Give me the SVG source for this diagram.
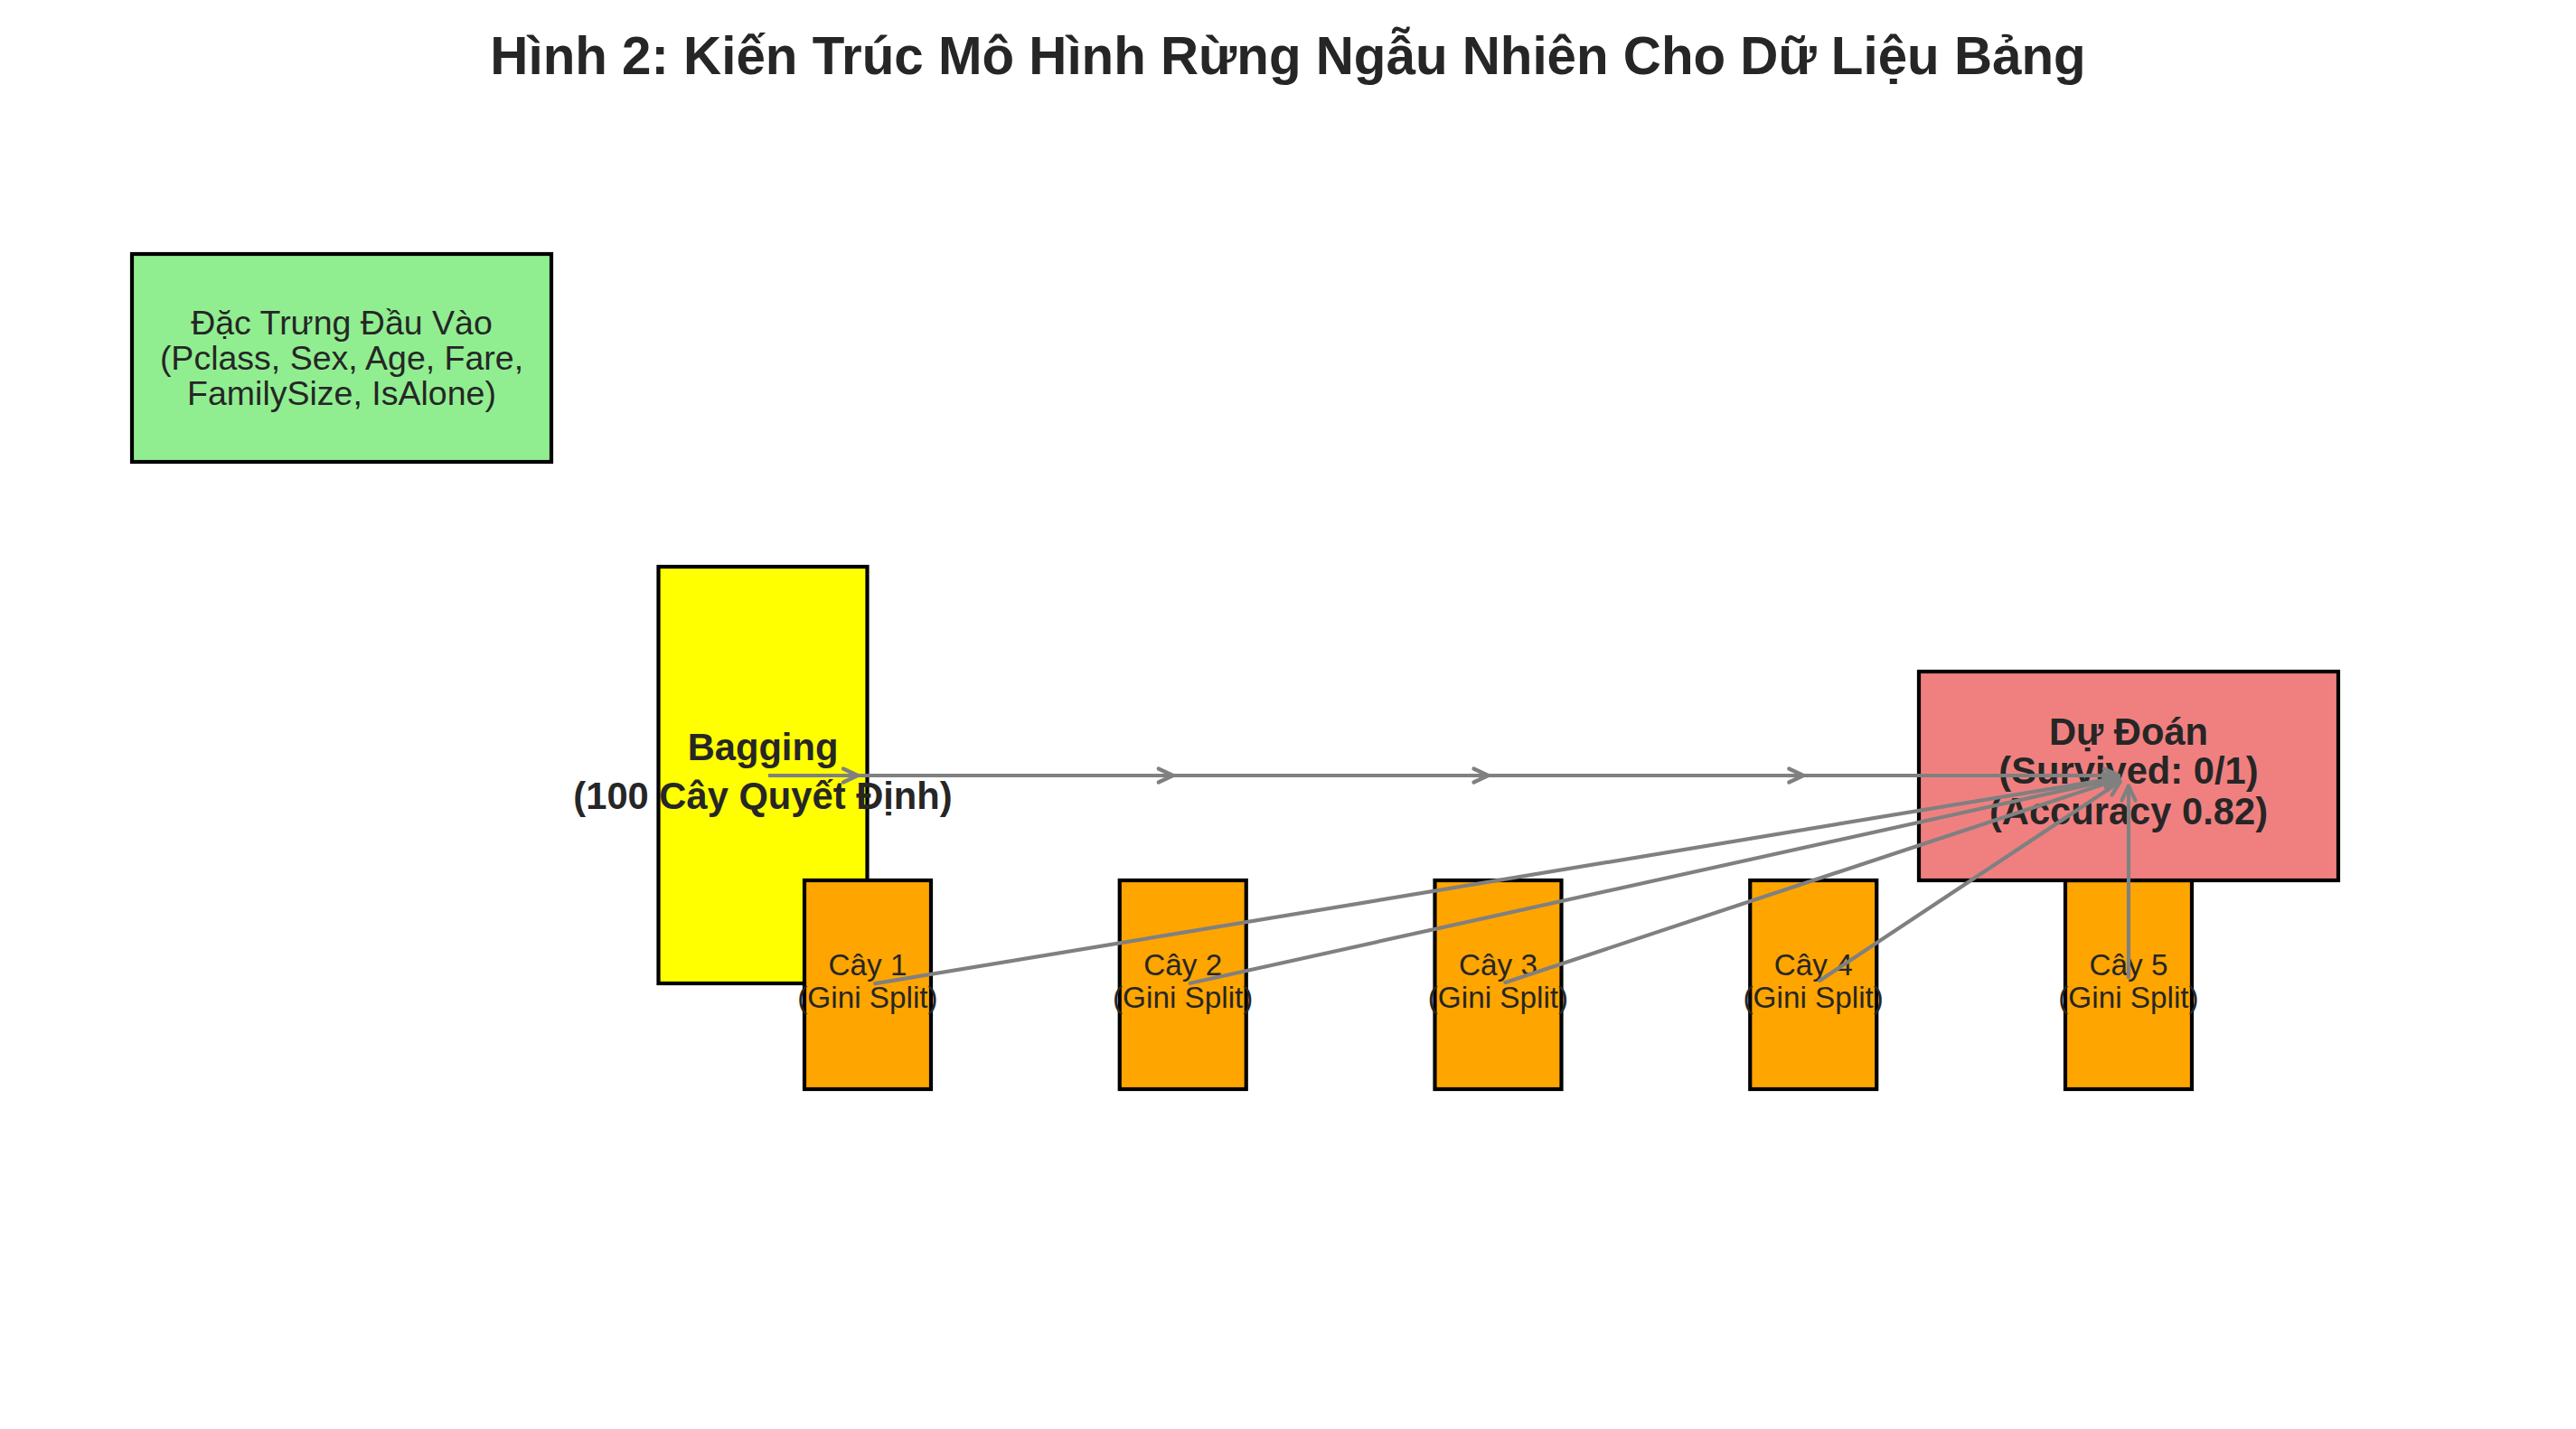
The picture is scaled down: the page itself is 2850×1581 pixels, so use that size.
<svg xmlns="http://www.w3.org/2000/svg" width="2850" height="1581" viewBox="0 0 2850 1581">
<style>
.box{stroke:#000;stroke-width:4.2}
.t{font-family:"Liberation Sans",Arial,sans-serif;fill:#262626;text-anchor:middle}
.n{font-size:37.5px}
.b{font-size:41.7px;font-weight:bold}
.s{font-size:33.3px}
.title{font-size:58.3px;font-weight:bold}
.c{stroke:#808080;stroke-width:4.2;fill:none;stroke-linecap:round;marker-end:url(#ah)}
</style>
<defs>
<marker id="ah" markerUnits="userSpaceOnUse" orient="auto" viewBox="-20 -20 40 40" refX="0" refY="0" markerWidth="40" markerHeight="40" overflow="visible">
<path d="M-16,-7.5 L0,0 L-16,7.5" fill="none" stroke="#808080" stroke-width="4.2" stroke-linecap="round" stroke-linejoin="round"/>
</marker>
</defs>
<rect width="2850" height="1581" fill="#fff"/>
<text class="t title" x="1425" y="82">Hình 2: Kiến Trúc Mô Hình Rừng Ngẫu Nhiên Cho Dữ Liệu Bảng</text>
<g id="input">
<rect class="box" x="146" y="281" width="464" height="230" fill="#90EE90"/>
<text class="t n" x="378" y="370">Đặc Trưng Đầu Vào</text>
<text class="t n" x="378" y="409">(Pclass, Sex, Age, Fare,</text>
<text class="t n" x="378" y="448">FamilySize, IsAlone)</text>
</g>
<g id="bagging">
<rect class="box" x="728.5" y="627" width="231" height="461" fill="#FFFF00"/>
<text class="t b" x="844" y="840.7">Bagging</text>
<text class="t b" x="844" y="895">(100 Cây Quyết Định)</text>
</g>
<g id="tree1">
<rect class="box" x="890" y="974" width="140" height="231" fill="#FFA500"/>
<text class="t s" x="960" y="1079.3">Cây 1</text>
<text class="t s" x="960" y="1115">(Gini Split)</text>
</g>
<g id="tree2">
<rect class="box" x="1238.75" y="974" width="140" height="231" fill="#FFA500"/>
<text class="t s" x="1308.75" y="1079.3">Cây 2</text>
<text class="t s" x="1308.75" y="1115">(Gini Split)</text>
</g>
<g id="tree3">
<rect class="box" x="1587.5" y="974" width="140" height="231" fill="#FFA500"/>
<text class="t s" x="1657.5" y="1079.3">Cây 3</text>
<text class="t s" x="1657.5" y="1115">(Gini Split)</text>
</g>
<g id="tree4">
<rect class="box" x="1936.25" y="974" width="140" height="231" fill="#FFA500"/>
<text class="t s" x="2006.25" y="1079.3">Cây 4</text>
<text class="t s" x="2006.25" y="1115">(Gini Split)</text>
</g>
<g id="tree5">
<rect class="box" x="2285" y="974" width="140" height="231" fill="#FFA500"/>
<text class="t s" x="2355" y="1079.3">Cây 5</text>
<text class="t s" x="2355" y="1115">(Gini Split)</text>
</g>
<g id="output">
<rect class="box" x="2123" y="743" width="464" height="231" fill="#F08080"/>
<text class="t b" x="2355" y="824.3">Dự Đoán</text>
<text class="t b" x="2355" y="867.3">(Survived: 0/1)</text>
<text class="t b" x="2355" y="912.3">(Accuracy 0.82)</text>
</g>
<g id="connectors">
<line class="c" x1="852" y1="858" x2="949" y2="858"/>
<line class="c" x1="852" y1="858" x2="1297.75" y2="858"/>
<line class="c" x1="852" y1="858" x2="1646.5" y2="858"/>
<line class="c" x1="852" y1="858" x2="1995.25" y2="858"/>
<line class="c" x1="852" y1="858" x2="2344" y2="858"/>
<line class="c" x1="968.19" y1="1088.14" x2="2344.15" y2="860.3"/>
<line class="c" x1="1316.85" y1="1087.71" x2="2344.26" y2="860.87"/>
<line class="c" x1="1665.38" y1="1086.89" x2="2344.56" y2="861.96"/>
<line class="c" x1="2013.17" y1="1084.92" x2="2345.83" y2="864.57"/>
<line class="c" x1="2355" y1="1081.2" x2="2355" y2="869.5"/>
</g>
</svg>
